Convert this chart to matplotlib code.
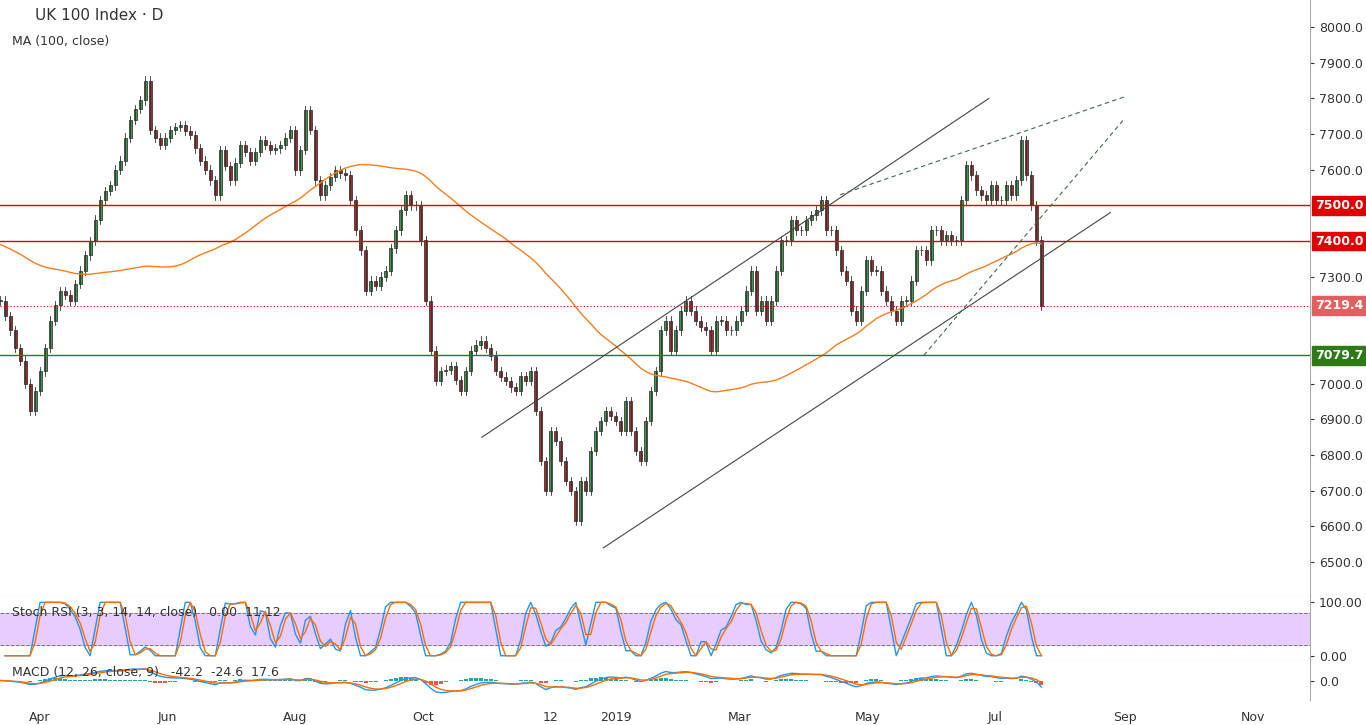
import numpy as np, pandas as pd
import matplotlib
matplotlib.use("Agg")
import matplotlib.pyplot as plt
import matplotlib.dates as mdates

prior_closes = [7500,7520,7540,7520,7500,7480,7460,7420,7400,7380,7360,7380,7400,7420,7440,7460,
7400,7420,7380,7350,7400,7450,7480,7500,7520,7540,7600,7620,7680,7700,7720,7740,7730,7700,7680,7600,
7500,7400,7250,7200,7230,7280,7250,7200,7230,7250,7270,7200,7150,7100,7050,7000,7050,7100,7150,7200,7230,7240]
closes = [7233,7190,7150,7100,7065,7000,6925,6980,7035,7100,7177,7220,7260,7250,7233,7280,7317,7360,7400,7460,
7514,7540,7556,7600,7626,7690,7740,7770,7795,7850,7711,7690,7670,7690,7711,7720,7725,7710,7697,7660,
7626,7600,7570,7528,7655,7610,7570,7620,7670,7650,7626,7650,7683,7670,7655,7660,7670,7690,7711,7598,
7655,7767,7711,7570,7528,7556,7580,7598,7590,7584,7514,7430,7374,7261,7289,7275,7300,7317,7380,7430,
7486,7528,7500,7500,7402,7233,7093,7008,7036,7040,7050,7010,6980,7036,7093,7110,7121,7100,7079,7036,
7020,7008,6990,6980,7022,7008,7036,6924,6784,6700,6868,6840,6784,6728,6700,6615,6728,6700,6812,6868,
6896,6924,6910,6896,6868,6952,6868,6812,6784,6896,6980,7036,7150,7177,7093,7150,7205,7233,7205,7177,
7160,7150,7093,7177,7177,7150,7150,7177,7205,7261,7317,7205,7233,7177,7233,7317,7402,7402,7458,7430,
7430,7458,7472,7486,7514,7430,7430,7374,7317,7289,7205,7177,7261,7346,7317,7317,7261,7233,7205,7177,
7233,7233,7289,7374,7374,7346,7430,7430,7402,7416,7402,7402,7514,7612,7584,7542,7528,7514,7556,7514,
7514,7556,7528,7570,7683,7584,7500,7402,7219]
start = pd.Timestamp("2018-03-13")
step_days = 2.39
dates = [start + pd.Timedelta(days=i*step_days) for i in range(len(closes))]
month_labels = ["Apr","Jun","Aug","Oct","12","2019","Mar","May","Jul","Sep","Nov"]
month_dates = ["2018-04-01","2018-06-01","2018-08-01","2018-10-01","2018-12-01","2019-01-01",
               "2019-03-01","2019-05-01","2019-07-01","2019-09-01","2019-11-01"]
levels_red = [7500.0, 7400.0]
level_last = 7219.4
level_green = 7079.7
channel = [(("2018-10-29",6850),("2019-06-28",7800)),(("2018-12-26",6540),("2019-08-25",7480))]
dashed = [(("2019-04-18",7530),("2019-09-01",7805)),(("2019-05-28",7080),("2019-09-01",7745))]

x = mdates.date2num(dates)
c = np.array(closes, float)
o = np.r_[c[0], c[:-1]]

fig = plt.figure(figsize=(13.66,7.25), dpi=100)
W,H = 1366,725
def ax_at(y0,y1):
    return fig.add_axes([0, 1-y1/H, 1310/W, (y1-y0)/H])
ax = ax_at(0,596); ax2 = ax_at(597,660); ax3 = ax_at(661,700)
xmin = mdates.date2num(pd.Timestamp("2018-03-13")); xmax = xmin + 1310/2.095
for a in (ax,ax2,ax3):
    a.set_xlim(xmin,xmax)
    a.yaxis.tick_right()
    a.tick_params(axis='y', length=3, labelsize=9, colors='#333')
    for s in ['left','top','bottom']: a.spines[s].set_visible(False)
    a.spines['right'].set_color('#aaa')
    a.set_xticks([])
w = step_days*0.6
for xi,oi,ci in zip(x,o,c):
    face = '#3c9a4a' if ci>=oi else '#a52a2a'
    lo,hi = min(oi,ci), max(oi,ci)
    ax.plot([xi,xi],[lo-12,hi+12], color='#333', lw=0.6)
    ax.add_patch(plt.Rectangle((xi-w/2,lo), w, max(hi-lo,2), facecolor=face, edgecolor='#222', lw=0.5))
full = pd.Series(prior_closes + closes, dtype=float)
ma = full.rolling(58, min_periods=1).mean().values[len(prior_closes):]
ax.plot(x, ma, color='#f57c20', lw=1)
for lv in levels_red: ax.axhline(lv, color='#e00000', lw=1)
ax.axhline(level_last, color='#e00000', lw=0.8, ls=(0,(1,2)))
ax.axhline(level_green, color='#2d7a17', lw=1)
for (d0,p0),(d1,p1) in channel:
    ax.plot(mdates.date2num([pd.Timestamp(d0),pd.Timestamp(d1)]),[p0,p1], color='#444', lw=0.8)
for (d0,p0),(d1,p1) in dashed:
    ax.plot(mdates.date2num([pd.Timestamp(d0),pd.Timestamp(d1)]),[p0,p1], color='#3d6b4a', lw=0.8, ls=(0,(4,3)))
ax.set_ylim(6405, 8076)
ticks = [v for v in range(6500,8001,100) if v not in (7100,7200,7400,7500)]
ax.set_yticks(ticks)
ax.set_yticklabels([f"{v:.1f}" for v in ticks])
for lv,fc in [(7500.0,'#e00000'),(7400.0,'#e00000'),(level_last,'#e06060'),(level_green,'#2d7a17')]:
    ax.text(1.004, lv, f"{lv:.1f}", transform=ax.get_yaxis_transform(), fontsize=9, color='white',
            fontweight='bold', va='center', bbox=dict(facecolor=fc, edgecolor=fc, pad=2))
ax.text(0.027,0.966,"UK 100 Index · D", transform=ax.transAxes, fontsize=11, color='#333')
ax.text(0.009,0.925,"MA (100, close)", transform=ax.transAxes, fontsize=9, color='#333')

s = pd.Series(c); d = s.diff()
up = d.clip(lower=0).rolling(6,min_periods=1).mean(); dn = (-d.clip(upper=0)).rolling(6,min_periods=1).mean()
rsi = 100*up/(up+dn+1e-9)
st = (rsi - rsi.rolling(6,min_periods=1).min())/(rsi.rolling(6,min_periods=1).max()-rsi.rolling(6,min_periods=1).min()+1e-9)*100
k = st.rolling(2,min_periods=1).mean(); dd = k.rolling(2,min_periods=1).mean()
ax2.axhspan(20,80,color='#e6ccff')
ax2.axhline(80,color='#777',lw=0.7,ls='--'); ax2.axhline(20,color='#777',lw=0.7,ls='--')
ax2.plot(x,k,color='#2196f3',lw=1); ax2.plot(x,dd,color='#ff6d00',lw=1)
ax2.set_ylim(-8,110); ax2.set_yticks([0,100]); ax2.set_yticklabels(["0.00","100.00"])
ax2.text(0.009,0.7,"Stoch RSI (3, 3, 14, 14, close)   0.00  11.12", transform=ax2.transAxes, fontsize=9, color='#333')
e12 = s.ewm(span=5).mean(); e26 = s.ewm(span=11).mean(); macd = e12-e26; sig = macd.ewm(span=4).mean(); hist = macd-sig
ax3.bar(x, hist, width=step_days*0.8, color=np.where(hist>=0,'#26a69a','#ef5350'))
ax3.plot(x,macd,color='#2196f3',lw=1); ax3.plot(x,sig,color='#ff6d00',lw=1)
m = max(abs(macd).max(),1)*1.6
ax3.set_ylim(-m,m); ax3.set_yticks([0]); ax3.set_yticklabels(["0.0"])
ax3.text(0.009,0.62,"MACD (12, 26, close, 9)   -42.2  -24.6  17.6", transform=ax3.transAxes, fontsize=9, color='#333')
ax3.set_xticks(mdates.date2num([pd.Timestamp(t) for t in month_dates]))
ax3.set_xticklabels(month_labels, fontsize=9, color='#333')
ax3.tick_params(axis='x', length=0, pad=8)
for a in (ax,ax2): a.axhline(a.get_ylim()[0], color='#aaa', lw=0.8)
fig.savefig("out.png", dpi=100, facecolor='white')
